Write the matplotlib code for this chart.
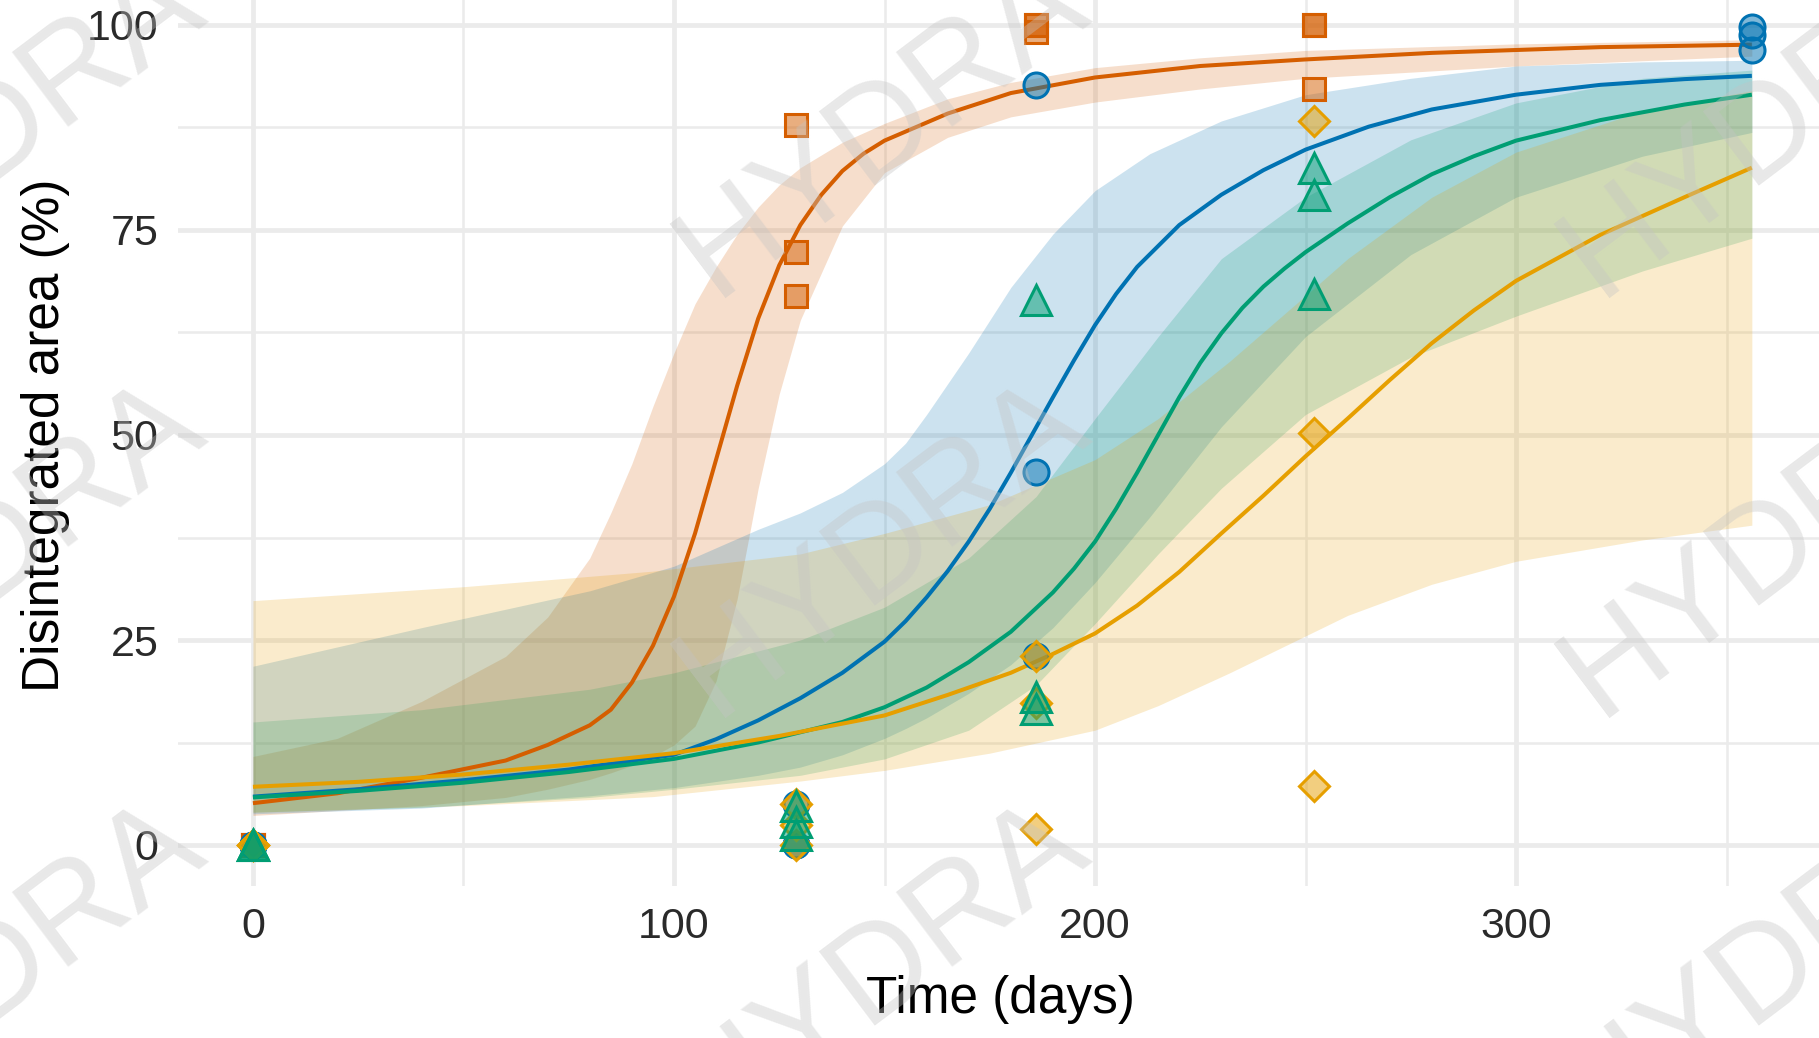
import matplotlib
matplotlib.use("Agg")
import matplotlib.pyplot as plt

plt.rcParams['font.family'] = ['Liberation Sans', 'DejaVu Sans']

# observed points
orange_t = [0, 0, 0, 129, 129, 129, 186, 186, 186, 252, 252, 252]
orange_v = [0, 0, 0, 87.8, 72.3, 67.0, 100, 100, 99.2, 100, 100, 92.2]
blue_t = [0, 0, 0, 129, 129, 129, 186, 186, 186, 356, 356, 356]
blue_v = [0, 0, 0, 0, 0, 5.0, 92.7, 45.5, 23.1, 99.7, 98.8, 97.0]
yellow_t = [0, 0, 0, 129, 129, 129, 186, 186, 186, 252, 252, 252]
yellow_v = [0, 0, 0, 0, 5.0, 2.5, 23.1, 17.3, 2.0, 88.3, 50.3, 7.2]
green_t = [0, 0, 0, 129, 129, 129, 186, 186, 186, 252, 252, 252]
green_v = [0, 0, 0, 4.7, 2.8, 1.2, 66.5, 18.0, 16.6, 82.6, 79.3, 67.2]

# fitted curves
orange_fit_t = [0, 20, 40, 60, 70, 80, 85, 90, 95, 100, 105, 110, 115, 120, 125, 130,
                135, 140, 145, 150, 165, 180, 200, 225, 250, 280, 320, 356]
orange_fit = [5.1, 6.3, 8.2, 10.3, 12.2, 14.6, 16.5, 19.8, 24.3, 30.3, 38.0, 47.0, 56.0,
              64.2, 70.7, 75.6, 79.3, 82.2, 84.3, 85.9, 89.2, 91.7, 93.6, 95.0, 95.8, 96.6,
              97.3, 97.6]
blue_fit_t = [0, 25, 50, 75, 100, 110, 120, 130, 140, 150, 155, 160, 165, 170, 175, 180,
              185, 190, 195, 200, 205, 210, 220, 230, 240, 250, 265, 280, 300, 320, 340, 356]
blue_fit = [5.9, 6.8, 7.9, 9.2, 11.0, 12.9, 15.2, 17.9, 21.0, 24.8, 27.3, 30.2, 33.4, 37.0,
            41.0, 45.4, 50.0, 54.6, 59.1, 63.4, 67.2, 70.5, 75.6, 79.3, 82.3, 84.8, 87.6,
            89.7, 91.5, 92.7, 93.4, 93.8]
green_fit_t = [0, 25, 50, 75, 100, 120, 140, 150, 160, 170, 180, 190, 195, 200, 205, 210,
               215, 220, 225, 230, 235, 240, 245, 250, 260, 270, 280, 290, 300, 320, 340, 356]
green_fit = [5.8, 6.6, 7.6, 8.9, 10.5, 12.5, 15.0, 16.8, 19.2, 22.3, 26.0, 30.8, 33.7, 37.0,
             41.0, 45.4, 50.0, 54.6, 58.8, 62.4, 65.5, 68.1, 70.3, 72.3, 75.8, 79.0, 81.8,
             84.0, 85.9, 88.4, 90.3, 91.5]
yellow_fit_t = [0, 25, 50, 75, 100, 125, 150, 165, 180, 190, 200, 210, 220, 230, 240, 250,
                260, 270, 280, 290, 300, 320, 340, 356]
yellow_fit = [7.1, 7.7, 8.6, 9.8, 11.2, 13.3, 15.8, 18.3, 21.0, 23.3, 25.8, 29.2, 33.3, 38.0,
              42.6, 47.4, 52.0, 56.7, 61.2, 65.2, 68.8, 74.4, 79.0, 82.6]

# confidence bands
orange_band_t = [0, 20, 40, 60, 70, 80, 85, 90, 95, 100, 105, 110, 115, 120, 125, 130,
                 140, 150, 165, 180, 200, 225, 250, 300, 356]
orange_lo = [3.6, 4.2, 4.8, 5.8, 6.8, 8.0, 8.8, 9.7, 10.8, 12.2, 14.5, 20.0, 30.0, 43.5,
             55.0, 64.0, 75.5, 82.0, 86.3, 88.8, 90.6, 92.2, 93.5, 95.0, 96.2]
orange_hi = [10.8, 13.0, 17.5, 23.0, 27.8, 35.0, 40.5, 46.5, 53.5, 60.0, 66.0, 70.5, 74.5,
             77.8, 80.5, 82.6, 85.7, 88.0, 91.0, 93.0, 94.8, 96.0, 96.9, 97.7, 98.2]
blue_band_t = [0, 40, 80, 100, 120, 130, 140, 150, 155, 160, 170, 180, 190, 200, 213, 230,
               250, 275, 300, 330, 356]
blue_lo = [3.8, 4.5, 6.0, 7.0, 8.5, 9.5, 11.0, 13.0, 14.2, 15.5, 18.5, 22.0, 26.5, 32.0,
           40.0, 51.0, 62.0, 72.0, 79.0, 84.0, 86.9]
blue_hi = [21.8, 26.5, 31.0, 34.0, 38.5, 40.5, 43.0, 46.5, 49.0, 52.5, 60.0, 68.0, 74.5,
           79.8, 84.3, 88.3, 91.5, 93.5, 95.0, 95.5, 95.7]
green_band_t = [0, 40, 80, 100, 130, 150, 170, 186, 200, 215, 230, 250, 275, 300, 330, 356]
green_lo = [4.0, 4.6, 5.8, 6.8, 8.5, 10.5, 14.0, 19.5, 27.0, 35.5, 43.5, 52.5, 59.5, 64.5,
            70.0, 74.0]
green_hi = [15.0, 16.5, 19.0, 21.0, 25.0, 29.0, 35.0, 42.5, 52.0, 62.0, 71.5, 79.0, 86.0,
            90.5, 93.5, 94.5]
yellow_band_t = [0, 50, 95, 130, 150, 175, 200, 215, 232, 250, 260, 280, 300, 330, 356]
yellow_lo = [4.0, 4.8, 5.9, 7.8, 9.1, 11.2, 14.0, 17.0, 21.0, 25.5, 28.0, 31.8, 34.6, 37.2,
             39.0]
yellow_hi = [29.8, 31.5, 33.4, 35.5, 38.0, 41.5, 47.0, 52.0, 59.0, 67.0, 71.5, 79.0, 84.5,
             89.5, 92.0]

x_ticks = [0, 100, 200, 300]
y_ticks = [0, 25, 50, 75, 100]

ORANGE = '#D55E00'
BLUE = '#0072B2'
GREEN = '#009E73'
YELLOW = '#E69F00'

W, H = 1819, 1038
fig = plt.figure(figsize=(W / 100, H / 100), dpi=100)
fig.patch.set_facecolor('white')
ax = fig.add_axes([178 / W, 152 / H, (1831 - 178) / W, 902 / H])
ax.set_xlim(-17.8, 374.8)
ax.set_ylim(-5, 105)

for s in ax.spines.values():
    s.set_visible(False)
ax.set_xticks(x_ticks)
ax.set_yticks(y_ticks)
ax.set_xticks([50, 150, 250, 350], minor=True)
ax.set_yticks([12.5, 37.5, 62.5, 87.5], minor=True)
ax.grid(which='major', color='#EBEBEB', linewidth=3.4)
ax.grid(which='minor', color='#EBEBEB', linewidth=1.8)
ax.set_axisbelow(True)
ax.tick_params(which='both', length=0)
ax.tick_params(axis='y', pad=14, labelsize=31, labelcolor='#2a2a2a')
ax.tick_params(axis='x', pad=15, labelsize=31, labelcolor='#2a2a2a')

bands = [
    (orange_band_t, orange_lo, orange_hi, ORANGE),
    (blue_band_t, blue_lo, blue_hi, BLUE),
    (green_band_t, green_lo, green_hi, GREEN),
    (yellow_band_t, yellow_lo, yellow_hi, YELLOW),
]
for t, lo, hi, c in bands:
    ax.fill_between(t, lo, hi, color=c, alpha=0.2, linewidth=0)

fits = [
    (orange_fit_t, orange_fit, ORANGE),
    (blue_fit_t, blue_fit, BLUE),
    (green_fit_t, green_fit, GREEN),
    (yellow_fit_t, yellow_fit, YELLOW),
]
for t, v, c in fits:
    ax.plot(t, v, color=c, linewidth=2.9, solid_capstyle='butt', solid_joinstyle='round')

def rgba(c, a):
    c = c.lstrip('#')
    return (int(c[0:2], 16) / 255, int(c[2:4], 16) / 255, int(c[4:6], 16) / 255, a)

points = [
    (orange_t, orange_v, ORANGE, 's', 16),
    (blue_t, blue_v, BLUE, 'o', 18),
    (yellow_t, yellow_v, YELLOW, 'D', 15),
    (green_t, green_v, GREEN, '^', 21),
]
for t, v, c, m, ms in points:
    ax.plot(t, v, linestyle='none', marker=m, markersize=ms,
            markerfacecolor=rgba(c, 0.5), markeredgecolor=c, markeredgewidth=2.2)

fig.text(1000 / W, 1 - 1000 / H, 'Time (days)', fontsize=37, ha='center', va='center')
fig.text(45 / W, 1 - 435 / H, 'Disintegrated area (%)', fontsize=37, ha='center',
         va='center', rotation=90)

# watermark
for cx in [-2, 882, 1766]:
    for cy in [128, 548, 968]:
        fig.text(cx / W, 1 - cy / H, 'HYDRA', fontsize=97, color='#c4c4c4', alpha=0.38,
                 rotation=37, ha='center', va='center', rotation_mode='anchor')

fig.savefig('out.png', dpi=100)
